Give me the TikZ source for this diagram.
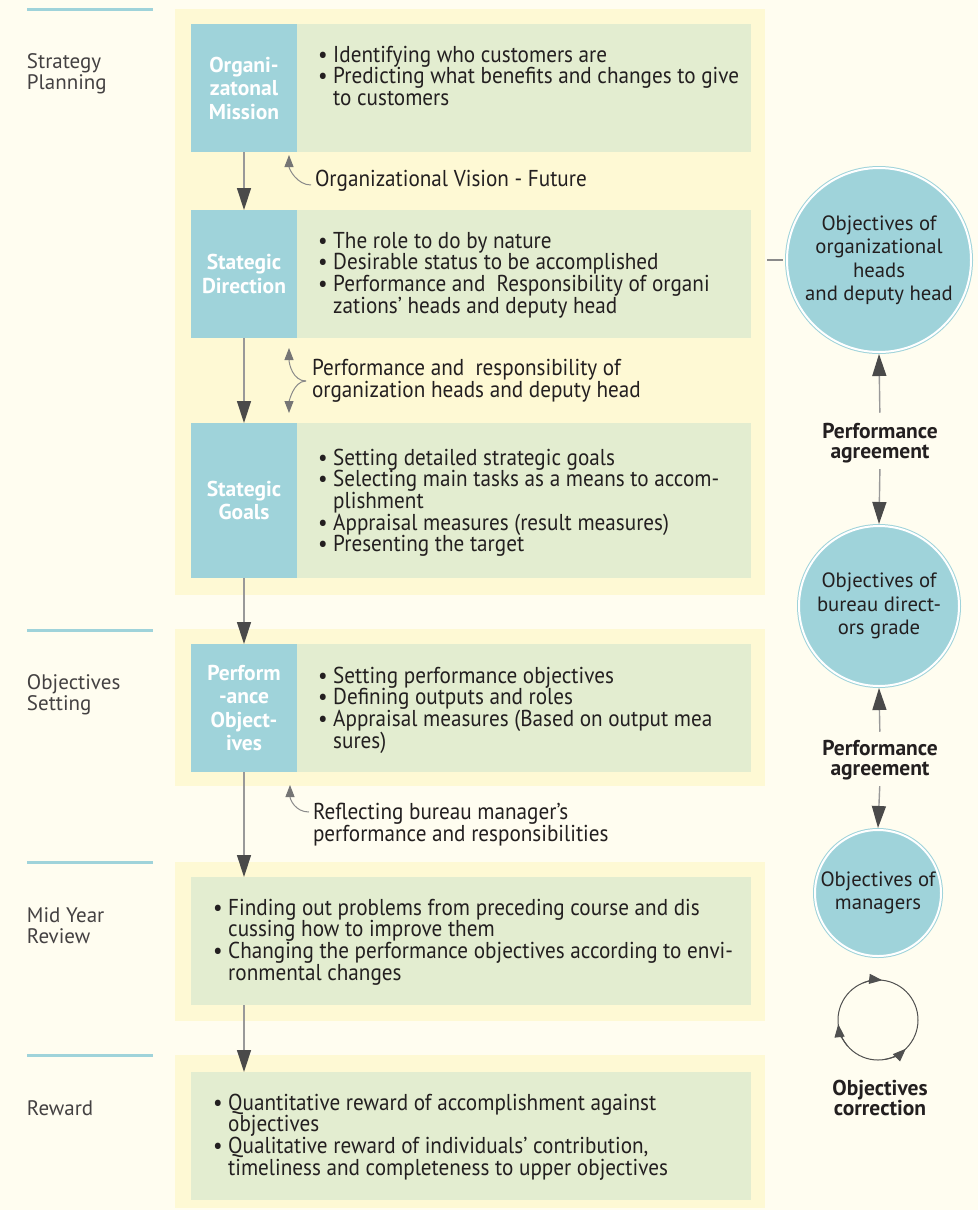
\documentclass[tikz,border=0pt]{standalone}
\usepackage{fontspec}
\setmainfont{PT Sans}
\newfontfamily\narrowsans{PT Sans}[FakeStretch=0.92,Ligatures=TeX]
\usetikzlibrary{arrows.meta,calc}
\definecolor{paper}{HTML}{FFFDF0}
\definecolor{panel}{HTML}{FEF9D4}
\definecolor{leaf}{HTML}{E3EDD0}
\definecolor{teal}{HTML}{9FD3DA}
\definecolor{ink}{HTML}{231F20}
\definecolor{stem}{HTML}{999999}
\definecolor{tipgray}{HTML}{4A4A4A}
\definecolor{hookgray}{HTML}{8A8A8A}
\definecolor{cyclegray}{HTML}{505050}
\newcommand\bul{\textbullet\ }
\newcommand\bulpad{\hphantom{\textbullet\ }}
\newcommand\leftpar[2]{\parbox[t]{#1}{\raggedright #2}}
\newcommand\midpar[2]{\parbox[t]{#1}{\centering #2}}

\begin{document}
\begin{tikzpicture}[x=1pt,y=-1pt,
  every node/.style={inner sep=0pt, outer sep=0pt, text=ink},
  band/.style={fill=panel, anchor=north west},
  leafbox/.style={fill=leaf, anchor=north west},
  tealbox/.style={fill=teal, anchor=north west, text=white, align=center,
    font=\fontsize{21.5}{23.5}\selectfont\bfseries},
  body/.style={anchor=base west, font=\narrowsans\fontsize{23}{21.7}\selectfont},
  side/.style={anchor=base west, text=ink!85, font=\fontsize{21}{21.5}\selectfont},
  note/.style={anchor=base west, font=\narrowsans\fontsize{23}{22.5}\selectfont},
  goal/.style={circle, fill=teal, draw=teal, double=white, double distance=2pt,
    line width=1pt, align=center, font=\fontsize{20.7}{23.5}\selectfont},
  agree/.style={anchor=base, font=\fontsize{21.5}{20.5}\selectfont\bfseries},
  flow/.style={draw=stem, line width=1.4pt, -{Triangle[length=22pt,width=14pt,color=tipgray]}},
  hookarrow/.style={draw=hookgray, line width=1pt, -{Triangle[length=12pt,width=9pt,color=hookgray!85!black]}},
  cyc/.style={draw=cyclegray, line width=1pt},
  cyctip/.style={draw=cyclegray, line width=1pt, -{Triangle[length=13pt,width=10pt,color=cyclegray]}},
  rule/.style={draw=teal, line width=3pt},
]
% canvas
\useasboundingbox (0,0) rectangle (978,1210);
\fill[paper] (0,0) rectangle (978,1210);

% stage rules and titles
\draw[rule] (27,9) -- (153,9);
\draw[rule] (27,630) -- (153,630);
\draw[rule] (27,862) -- (153,862);
\draw[rule] (27,1055) -- (153,1055);
\node[side] (s1) at (27,68) {\leftpar{140pt}{Strategy\\Planning}};
\node[side] (s2) at (27,689) {\leftpar{140pt}{Objectives\\Setting}};
\node[side] (s3) at (27,922) {\leftpar{140pt}{Mid Year\\Review}};
\node[side] (s4) at (27,1115) {Reward};

% stage panels
\node[band, minimum width=590pt, minimum height=586pt] (p1) at (175,9) {};
\node[band, minimum width=590pt, minimum height=157pt] (p2) at (175,629) {};
\node[band, minimum width=590pt, minimum height=159pt] (p3) at (175,862) {};
\node[band, minimum width=590pt, minimum height=153pt] (p4) at (175,1055) {};

% content boxes
\node[leafbox, minimum width=454pt, minimum height=128pt] (g1) at (297,24) {};
\node[leafbox, minimum width=454pt, minimum height=128pt] (g2) at (297,210) {};
\node[leafbox, minimum width=454pt, minimum height=155pt] (g3) at (297,423) {};
\node[leafbox, minimum width=454pt, minimum height=128pt] (g4) at (297,644) {};
\node[leafbox, minimum width=560pt, minimum height=128pt] (g5) at (191,877) {};
\node[leafbox, minimum width=560pt, minimum height=128pt] (g6) at (191,1072) {};

% stage headers
\node[tealbox, minimum width=106pt, minimum height=128pt] (mission) at (191,24) {Organi-\\zatonal\\Mission};
\node[tealbox, minimum width=106pt, minimum height=128pt] (direction) at (191,210) {Stategic\\Direction};
\node[tealbox, minimum width=106pt, minimum height=155pt] (goals) at (191,423) {Stategic\\Goals};
\node[tealbox, minimum width=106pt, minimum height=128pt] (perfobj) at (191,644) {Perform\\-ance\\Object-\\ives};

% box contents
\node[body] (t1) at (318,62) {\leftpar{430pt}{\bul Identifying who customers are\\
  \bul Predicting what benefits and changes to give\\
  \bulpad to customers}};
\node[body] (t2) at (318,248) {\leftpar{430pt}{\bul The role to do by nature\\
  \bul Desirable status to be accomplished\\
  \bul Performance and\ \ Responsibility of organi\\
  \bulpad zations' heads and deputy head}};
\node[body] (t3) at (318,465) {\leftpar{430pt}{\bul Setting detailed strategic goals\\
  \bul Selecting main tasks as a means to accom-\\
  \bulpad plishment\\
  \bul Appraisal measures (result measures)\\
  \bul Presenting the target}};
\node[body] (t4) at (318,683) {\leftpar{430pt}{\bul Setting performance objectives\\
  \bul Defining outputs and roles\\
  \bul Appraisal measures (Based on output mea\\
  \bulpad sures)}};
\node[body] (t5) at (213,915) {\leftpar{535pt}{\bul Finding out problems from preceding course and dis\\
  \bulpad cussing how to improve them\\
  \bul Changing the performance objectives according to envi-\\
  \bulpad ronmental changes}};
\node[body] (t6) at (213,1110) {\leftpar{535pt}{\bul Quantitative reward of accomplishment against\\
  \bulpad objectives\\
  \bul Qualitative reward of individuals' contribution,\\
  \bulpad timeliness and completeness to upper objectives}};

% side notes
\node[note] (vision) at (315,186) {Organizational Vision - Future};
\node[note] (heads) at (312,375) {\leftpar{440pt}{Performance and\ \ responsibility of\\organization heads and deputy head}};
\node[note] (bureau) at (313,819) {\leftpar{440pt}{Reflecting bureau manager's\\performance and responsibilities}};

% main flow
\draw[flow] (mission.south) -- (direction.north);
\draw[flow] (direction.south) -- (goals.north);
\draw[flow] (goals.south) -- (perfobj.north);
\draw[flow] (perfobj.south) -- (perfobj.south |- g5.north);
\draw[flow] (perfobj.south |- g5.south) -- (perfobj.south |- g6.north);

% note hooks
\coordinate (vtip) at (289,155);
\coordinate (hjoin) at (306,381);
\coordinate (hup) at (289,348);
\coordinate (hdown) at (289,413);
\coordinate (btip) at (290,785);
\draw[hookarrow] ($(vision.base west)+(-4,-1)$) .. controls +(-14,0) and +(0,14) .. (vtip);
\draw[hookarrow] (hjoin) .. controls +(-13,0) and +(0,16) .. (hup);
\draw[hookarrow] (hjoin) .. controls +(-13,0) and +(0,-10) .. (hdown);
\draw[hookarrow] ($(bureau.base west)+(-4,-7)$) .. controls +(-14,0) and +(0,14) .. (btip);

% objectives ladder
\node[goal, minimum size=184pt] (c1) at (879,260) {Objectives of\\organizational\\heads\\and deputy head};
\node[goal, minimum size=160pt] (c2) at (879,606) {Objectives of\\bureau direct-\\ors grade};
\node[goal, minimum size=126pt] (c3) at (878,893) {Objectives of\\managers};
\draw[draw=hookgray, line width=1.3pt, shorten <=2pt, shorten >=4pt] (p1.east |- c1.west) -- (c1.west);

\node[agree] (a1) at (880,438) {\midpar{160pt}{Performance\\agreement}};
\node[agree] (a2) at (880,755) {\midpar{160pt}{Performance\\agreement}};
\draw[flow, shorten <=10pt] (a1.north) -- ($(c1.south)+(0,2)$);
\draw[flow, shorten <=6pt] (a1.south) -- ($(c2.north)+(0,-2)$);
\draw[flow, shorten <=8pt] (a2.north) -- ($(c2.south)+(0,2)$);
\draw[flow, shorten <=6pt] (a2.south) -- ($(c3.north)+(0,-2)$);

% correction cycle
\node[circle, minimum size=80pt, cyc] (cycle) at (878,1020) {};
\draw[cyctip] ([shift={(-112:40)}]cycle.center) arc (-112:-84:40);
\draw[cyctip] ([shift={(-220:40)}]cycle.center) arc (-220:-186:40);
\draw[cyctip] ([shift={(80:40)}]cycle.center) arc (80:46:40);
\node[agree] (corr) at (880,1095) {\midpar{160pt}{Objectives\\correction}};
\end{tikzpicture}
\end{document}
